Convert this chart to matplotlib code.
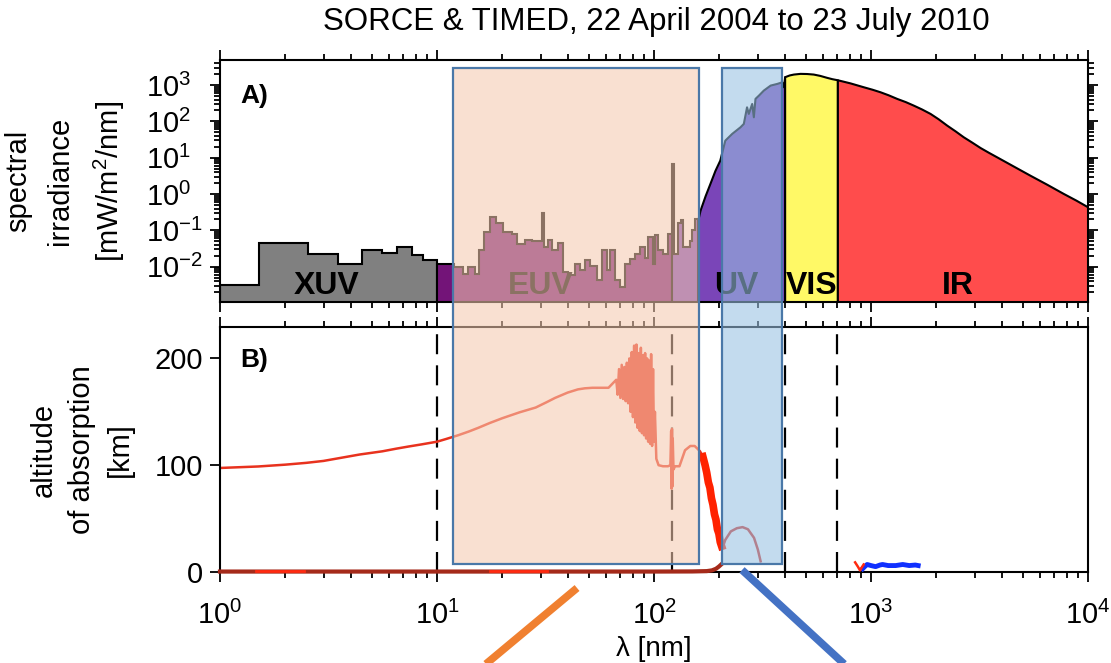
import numpy as np
import matplotlib
matplotlib.use('Agg')
import matplotlib.pyplot as plt
from matplotlib.patches import Rectangle
from matplotlib.lines import Line2D
from matplotlib.ticker import NullFormatter
from matplotlib.transforms import blended_transform_factory

plt.rcParams['font.family'] = 'Liberation Sans'
plt.rcParams['mathtext.fontset'] = 'custom'
plt.rcParams['mathtext.rm'] = 'Liberation Sans'
plt.rcParams['mathtext.it'] = 'Liberation Sans:italic'
plt.rcParams['mathtext.bf'] = 'Liberation Sans:bold'
plt.rcParams['mathtext.sf'] = 'Liberation Sans'

# ---- panel A: spectral irradiance (binned part) ----
xuv_edges = [1.0, 1.52, 2.54, 3.51, 4.53, 5.56, 6.52, 7.64, 8.65, 10.0]
xuv_vals = [0.0032, 0.046, 0.023, 0.0117, 0.028, 0.0245, 0.034, 0.0216, 0.0157]

euv_edges = [10.0, 12.0, 13.2, 13.9, 15.0, 15.7, 16.5, 17.6, 18.8, 20.2,
             22.1, 23.3, 25.5, 27.3, 30.4, 31.2, 32.6, 33.8, 36.2, 38.2,
             40.3, 43.3, 45.6, 48.1, 50.7, 54.4, 57.4, 60.5, 62.7, 66.1,
             69.7, 73.5, 77.5, 81.7, 86.2, 90.9, 94.2, 98.6, 101.0, 104.7,
             109.6, 116.4, 121.0]
euv_vals = [0.0122, 0.0099, 0.0065, 0.0099, 0.0065, 0.0285, 0.091, 0.236, 0.155, 0.091,
            0.082, 0.0435, 0.056, 0.05, 0.31, 0.035, 0.054, 0.0285, 0.045, 0.0072,
            0.0058, 0.0122, 0.008, 0.0151, 0.0103, 0.0042, 0.0285, 0.008, 0.0285, 0.0042,
            0.0028, 0.0122, 0.0168, 0.0231, 0.035, 0.017, 0.066, 0.0122, 0.074, 0.0285,
            0.0231, 0.082]

fuv_edges = [121.0, 123.5, 129.4, 132.7, 136.5, 146.6, 150.0, 155.0, 160.0]
fuv_vals = [6.7, 0.0231, 0.155, 0.19, 0.035, 0.05, 0.1, 0.2]

# ---- panel A: continuous part ----
uv_wl = [160, 163, 172, 181, 191, 201, 212, 228, 249, 258, 267, 272, 282, 287,
         292, 303, 319, 343, 368, 388, 395, 400]
uv_irr = [0.22, 0.36, 0.9, 1.96, 4.5, 8.6, 30.5, 46.7, 71, 88, 252, 166, 312, 134,
          430, 531, 728, 1000, 1111, 1231, 900, 1700]
vis_wl = [400, 420, 439, 471, 505, 542, 580, 625, 660, 700]
vis_irr = [1700, 1900, 2010, 2100, 2080, 2010, 1850, 1630, 1500, 1400]
ir_wl = [700, 800, 922, 1010, 1100, 1200, 1313, 1440, 1566, 1710, 1871, 2040, 2233,
         2440, 2663, 2910, 3178, 3470, 3793, 4530, 5404, 6450, 7696, 8800, 10000]
ir_irr = [1400, 1150, 898, 770, 655, 540, 430, 350, 281, 220, 166, 118, 79,
          55, 37.7, 27, 19.2, 14.2, 10.6, 5.9, 3.3, 1.87, 1.04, 0.68, 0.44]

band_names = ['XUV', 'EUV', 'UV', 'VIS', 'IR']
band_label_wl = [3.1, 30, 240, 535, 2520]

# ---- panel B: altitude of absorption ----
alt_wl = [1, 1.5, 2, 2.5, 3, 4.4, 5.6, 6.5, 7.4, 8.5, 10, 11, 12.5, 14, 15.5, 17.5, 20,
          24, 28.5, 32, 35, 40, 44.6, 48, 52, 56, 61.7,
          67, 68, 69, 70, 71, 72, 73, 74, 75, 76, 77, 78, 79, 80, 81, 82, 83, 84,
          85, 86, 87, 88, 89, 90, 91, 92, 93, 94, 95, 96, 97, 98, 99, 100, 101,
          102.5, 105, 110, 116, 119, 120, 120.5, 121, 121.5, 122, 123, 125, 131,
          139, 147, 154, 163, 168]
alt_km = [97.4, 98.8, 100.5, 102.2, 104, 110, 113, 115.5, 117.5, 119.5, 122, 124.5, 128, 131.5, 135, 139.5, 144,
          149.5, 154, 159, 163, 168, 171, 172, 172.5, 172.5, 172.5,
          180, 166, 190, 163, 194, 162, 192, 160, 196, 158, 200, 150, 206, 145, 212, 140, 213, 135,
          205, 132, 210, 130, 203, 128, 205, 125, 200, 122, 198, 120, 204, 118, 190, 122, 150,
          106, 100, 99, 99, 100, 132, 78, 134, 80, 125, 96, 99, 99,
          114, 118, 118, 113, 108]
sr_wl = [168, 172, 175, 178, 181, 184, 187, 190, 193, 196, 199, 202, 205]
sr_km = [108, 100, 93, 84, 79, 69, 63, 54, 49, 40, 36, 28, 24]
hump_wl = [205, 209, 213, 226, 241, 256, 271, 289, 301, 310]
hump_km = [24, 25, 30, 38, 41, 42, 40, 32, 21, 10]
low_wl = [1, 20, 50, 100, 150, 175, 185, 193, 199, 204]
low_km = [0.4, 0.4, 0.4, 0.4, 0.5, 0.8, 1.5, 3, 5, 7]
low2_wl = [1.47, 2.44, np.nan, 17.5, 32]
low2_km = [1.0, 1.0, np.nan, 0.8, 0.8]
nir_wl = [915, 935, 960, 1000, 1050, 1100, 1130, 1200, 1300, 1400, 1500, 1600, 1650]
nir_km = [3, 5, 7, 6, 5, 6.5, 7, 6, 6, 7, 6, 6.5, 6]
nirr_wl = [845, 870, 890, 905, 925]
nirr_km = [9, 5, 1.5, 4, 7]

boundaries = [10, 121.6, 400, 700]

# highlight boxes (wavelength ranges)
euv_box = (11.8, 162)
uv_box = (206, 388)

fig = plt.figure(figsize=(11.11, 6.63), dpi=100)
ax1 = fig.add_axes([0.198, 0.5445, 0.7813, 0.365])
ax2 = fig.add_axes([0.198, 0.1373, 0.7813, 0.3688])

base = 1e-4
ax1.stairs(xuv_vals, xuv_edges, baseline=base, fill=True, facecolor='#808080',
           edgecolor='black', linewidth=1.5)
ax1.stairs(euv_vals, euv_edges, baseline=base, fill=True, facecolor='#731478',
           edgecolor='black', linewidth=1.5)
ax1.stairs(fuv_vals, fuv_edges, baseline=base, fill=True, facecolor='#7a45b8',
           edgecolor='black', linewidth=1.5)
ax1.fill_between(uv_wl, uv_irr, base, facecolor='#7a45b8', edgecolor='black', linewidth=1.5)
ax1.fill_between(vis_wl, vis_irr, base, facecolor='#fff966', edgecolor='black', linewidth=1.5)
ax1.fill_between(ir_wl, ir_irr, base, facecolor='#ff4c4c', edgecolor='black', linewidth=1.5)

ax1.set_xscale('log')
ax1.set_yscale('log')

tr1 = blended_transform_factory(ax1.transData, ax1.transAxes)
for name, wl in zip(band_names, band_label_wl):
    ax1.text(wl, 0.065, name, transform=tr1, ha='center', va='center',
             fontsize=23, fontweight='bold', color='black')
ax1.text(0.023, 0.851, 'A)', transform=ax1.transAxes, fontsize=19,
         fontweight='bold', va='center', ha='left')

# panel B curves
for b in boundaries:
    ax2.axvline(b, color='black', linewidth=1.6, linestyle=(0, (9, 5)), zorder=1)
ax2.plot(alt_wl, alt_km, color='#e8321e', linewidth=1.8, zorder=2)
ax2.plot(sr_wl, sr_km, color='#ff2200', linewidth=5.5, zorder=2)
ax2.plot(hump_wl, hump_km, color='#d42a1e', linewidth=1.8, zorder=2)
ax2.plot(low_wl, low_km, color='#a52a1a', linewidth=3, zorder=3, clip_on=False)
ax2.plot(low2_wl, low2_km, color='#ff2a10', linewidth=2, zorder=3, clip_on=False)
ax2.plot(nir_wl, nir_km, color='#1030ff', linewidth=3.5, zorder=3, clip_on=False)
ax2.plot(nirr_wl, nirr_km, color='#ff2a10', linewidth=1.8, zorder=3, clip_on=False)

ax2.set_xscale('log')
ax2.set_ylim(0, 229)
ax2.set_yticks([0, 100, 200])
ax2.text(0.023, 0.865, 'B)', transform=ax2.transAxes, fontsize=19,
         fontweight='bold', va='center', ha='left')

# log minor tick positions (2..9 in each decade)
x_minor = [m * 10.0 ** k for k in range(0, 4) for m in range(2, 10)]
y_minor = [m * 10.0 ** k for k in range(-3, 4) for m in range(2, 10)]

# axes styling
for ax in (ax1, ax2):
    for s in ax.spines.values():
        s.set_linewidth(1.5)
    ax.set_xticks([1, 10, 100, 1000, 10000])
    ax.set_xticks(x_minor, minor=True)
    ax.xaxis.set_minor_formatter(NullFormatter())
    ax.set_xlim(1, 1e4)
    ax.tick_params(which='both', direction='out', width=1.3, color='black', labelsize=21)
    ax.tick_params(which='major', length=7)
    ax.tick_params(which='minor', length=4)
ax1.set_yticks(y_minor, minor=True)
ax1.yaxis.set_minor_formatter(NullFormatter())
ax1.set_ylim(1.07e-3, 4.9e3)
ax1.tick_params(which='both', top=True, right=True, labelbottom=False)
ax2.tick_params(which='both', top=True, right=False)
ax2.tick_params(axis='x', which='major', pad=14)
ax2.tick_params(axis='y', which='major', pad=5)

ax1.set_yticks([1e-2, 1e-1, 1e0, 1e1, 1e2, 1e3])
ax1.tick_params(axis='y', which='major', pad=46)
for lbl in ax1.get_yticklabels():
    lbl.set_horizontalalignment('left')

ax1.set_ylabel('spectral\nirradiance\n[mW/m$^2$/nm]', fontsize=21, linespacing=1.65)
ax1.yaxis.set_label_coords(-0.107, 0.5)
ax2.set_ylabel('altitude\nof absorption\n[km]', fontsize=21, linespacing=1.45)
ax2.yaxis.set_label_coords(-0.099, 0.5)
ax2.set_xlabel('λ [nm]', fontsize=20)
ax2.xaxis.set_label_coords(0.5, -0.262)

fig.text(0.591, 0.967, 'SORCE & TIMED, 22 April 2004 to 23 July 2010',
         ha='center', va='center', fontsize=22.5)

# overlay boxes spanning both panels
trf = blended_transform_factory(ax2.transData, fig.transFigure)
box_bottom, box_top = 0.150, 0.897
fig.add_artist(Rectangle((euv_box[0], box_bottom), euv_box[1] - euv_box[0],
                         box_top - box_bottom, transform=trf, facecolor='#f5caaf',
                         alpha=0.57, edgecolor='none', zorder=5))
fig.add_artist(Rectangle((uv_box[0], box_bottom), uv_box[1] - uv_box[0],
                         box_top - box_bottom, transform=trf, facecolor='#99c1e2',
                         alpha=0.58, edgecolor='none', zorder=5))
for lo, hi in (euv_box, uv_box):
    fig.add_artist(Rectangle((lo, box_bottom), hi - lo, box_top - box_bottom,
                             transform=trf, fill=False, edgecolor='#4a78a8',
                             linewidth=1.6, zorder=6))

# pointer lines below the axis
fig.add_artist(Line2D([44.2, 15.0], [0.1131, -0.015], transform=trf,
                      color='#f08030', linewidth=5.5, solid_capstyle='butt', zorder=6))
fig.add_artist(Line2D([254.5, 834], [0.1403, -0.015], transform=trf,
                      color='#4472c4', linewidth=5.5, solid_capstyle='butt', zorder=6))

fig.savefig('out.png', dpi=100)
